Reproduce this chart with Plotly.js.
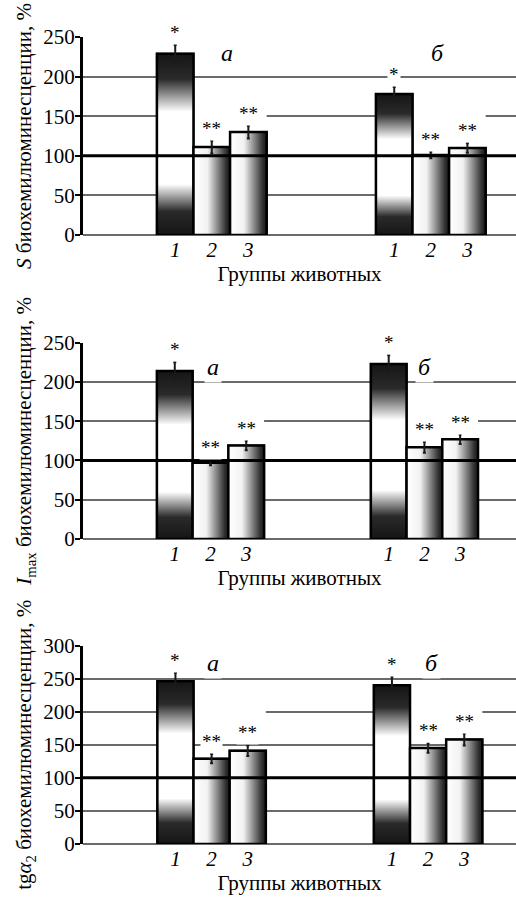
<!DOCTYPE html>
<html><head><meta charset="utf-8">
<script src="https://cdn.plot.ly/plotly-3.0.1.min.js"></script>
<style>html,body{margin:0;padding:0;background:#fff;} #chart{width:516px;height:901px;}</style>
</head><body><div id="chart"></div>
<script>
// ---- data ----
const groupLabels = ['а', 'б'];
const barLabels = ['1', '2', '3'];
const starLabels = ['*', '**', '**'];
const referenceLevel = 100;

const sGroupA = [229, 111, 130];
const sErrA   = [11, 8, 8];
const sGroupB = [178, 101, 110];
const sErrB   = [9, 4, 6];

const imaxGroupA = [214, 97, 119];
const imaxErrA   = [11, 3, 6];
const imaxGroupB = [223, 117, 127];
const imaxErrB   = [11, 7, 6];

const tgGroupA = [246, 129, 141];
const tgErrA   = [13, 7, 8];
const tgGroupB = [240, 145, 158];
const tgErrB   = [13, 7, 9];

const yTitles = [
  '<i>S</i> биохемилюминесценции, %',
  '<i>I</i><sub>max</sub> биохемилюминесценции, %',
  'tg<i>α</i><sub>2</sub> биохемилюминесценции, %'
];
const xTitle = 'Группы животных';

// ---- layout config ----
const FONT = 'Liberation Serif';
const panels = [
  {a: sGroupA, aErr: sErrA, b: sGroupB, bErr: sErrB, yMax: 250, gapLine: 150,
   dom: [0.7392, 0.9589], xr: [-0.588, 1.389], letterPos: [[0.071, 230], [0.032, 230]]},
  {a: imaxGroupA, aErr: imaxErrA, b: imaxGroupB, bErr: imaxErrB, yMax: 250, gapLine: 150,
   dom: [0.4018, 0.6196], xr: [-0.596, 1.428], letterPos: [[0.012, 219], [0.0, 219]]},
  {a: tgGroupA, aErr: tgErrA, b: tgGroupB, bErr: tgErrB, yMax: 300, gapLine: 200,
   dom: [0.0633, 0.2834], xr: [-0.594, 1.406], letterPos: [[0.007, 274], [0.014, 274]]}
];
const step = 0.167, barW = 0.167;

const vertGrad = {type: 'vertical', colorscale: [[0, '#151515'], [0.13, '#2a2a2a'], [0.28, '#ffffff'], [0.68, '#ffffff'], [0.86, '#2a2a2a'], [1, '#151515']]};
const horGrad = {type: 'horizontal', colorscale: [[0, '#ffffff'], [0.38, '#f2f2f2'], [0.9, '#2e2e2e'], [1, '#1a1a1a']]};

const traces = [], polyTraces = [], errTraces = [];
const layout = {
  width: 516, height: 901, margin: {l: 83, r: 0, t: 0, b: 0},
  paper_bgcolor: '#fff', plot_bgcolor: '#fff', showlegend: false,
  font: {family: FONT, color: '#000'},
  annotations: [], shapes: []
};

panels.forEach((p, k) => {
  const sx = k === 0 ? '' : String(k + 1);
  const xa = 'x' + sx, ya = 'y' + sx;
  const tickvals = [], ticktext = [];
  [p.a, p.b].forEach((vals, g) => {
    const errs = g === 0 ? p.aErr : p.bErr;
    const xs = vals.map((v, i) => g + (i - 1) * step);
    xs.forEach((x, i) => { tickvals.push(x); ticktext.push(barLabels[i]); });
    traces.push({type: 'bar', x: xs, y: vals, width: barW, xaxis: xa, yaxis: ya,
      marker: {color: '#888', line: {color: '#000', width: 2}}, hoverinfo: 'skip'});
    vals.forEach((v, i) => {
      const x0 = xs[i] - barW / 2, x1 = xs[i] + barW / 2;
      polyTraces.push({type: 'scatter', mode: 'lines', xaxis: xa, yaxis: ya,
        x: [x0, x1, x1, x0, x0], y: [0, 0, v, v, 0], fill: 'toself',
        fillgradient: i === 0 ? vertGrad : horGrad,
        line: {color: '#000', width: 2.5}, hoverinfo: 'skip'});
      layout.annotations.push({xref: xa, yref: ya, x: xs[i], y: v + errs[i],
        text: starLabels[i], showarrow: false, yanchor: 'bottom', yshift: 0,
        bgcolor: '#fff', borderpad: 1, font: {family: FONT, size: 19, color: '#000'}});
    });
    errTraces.push({type: 'scatter', mode: 'markers', xaxis: xa, yaxis: ya,
      x: xs, y: vals, marker: {size: 1, color: 'rgba(0,0,0,0)'},
      error_y: {type: 'data', array: errs, visible: true, color: '#1a1a1a', thickness: 2, width: 1.5},
      hoverinfo: 'skip'});
    layout.annotations.push({xref: xa, yref: ya, x: g + p.letterPos[g][0], y: p.letterPos[g][1],
      text: '<i>' + groupLabels[g] + '</i>', showarrow: false, bgcolor: '#fff', borderpad: 2,
      font: {family: FONT, size: 24, color: '#000'}});
    // white break in the gridline above bars 2-3 (as in the source figure)
    layout.shapes.push({type: 'rect', xref: xa, yref: ya, layer: 'between',
      x0: xs[1] - barW / 2, x1: xs[2] + barW / 2, ysizemode: 'pixel', yanchor: p.gapLine, y0: -3, y1: 3,
      fillcolor: '#fff', line: {width: 0}});
  });
  layout['xaxis' + sx] = {domain: [0, 1], anchor: ya, range: p.xr, showgrid: false, zeroline: false,
    showline: false, ticks: '', tickvals: tickvals, ticktext: ticktext,
    tickfont: {family: FONT, size: 21, color: '#000', style: 'italic'},
    title: {text: xTitle, font: {family: FONT, size: 21, color: '#000'}, standoff: 3}};
  layout['yaxis' + sx] = {domain: p.dom, anchor: xa, range: [0, p.yMax], dtick: 50,
    showline: true, linecolor: '#000', linewidth: 3, ticks: 'outside', ticklen: 5, tickwidth: 2, tickcolor: '#000',
    ticklabelstandoff: -4,
    showgrid: true, gridcolor: '#6a6a6a', gridwidth: 2, zeroline: true, zerolinecolor: '#6a6a6a', zerolinewidth: 2,
    tickfont: {family: FONT, size: 21, color: '#000'},
    title: {text: yTitles[k], font: {family: FONT, size: 21, color: '#000'}, standoff: 6}};
  layout.shapes.push({type: 'line', xref: xa + ' domain', yref: ya, x0: 0, x1: 1,
    y0: referenceLevel, y1: referenceLevel, layer: 'above', line: {color: '#000', width: 3}});
});

Plotly.newPlot('chart', traces.concat(polyTraces, errTraces), layout, {staticPlot: true});
</script>
</body></html>
